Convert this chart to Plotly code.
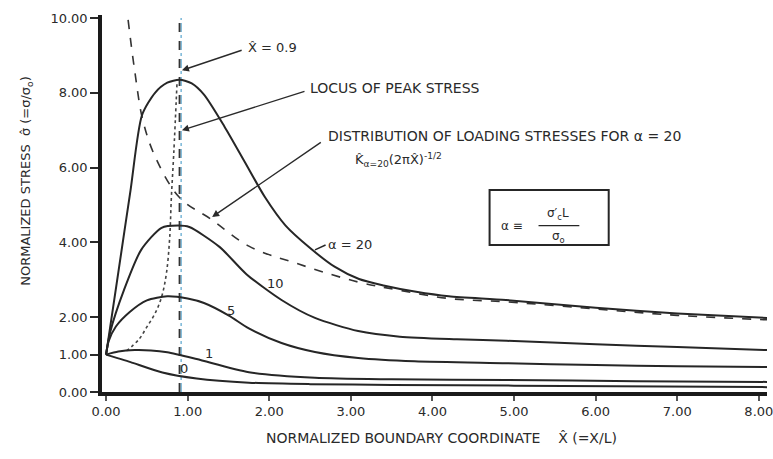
import plotly.graph_objects as go

# ---- data ----
x_ticks = [0, 1, 2, 3, 4, 5, 6, 7, 8]
x_tick_labels = ["0.00", "1.00", "2.00", "3.00", "4.00", "5.00", "6.00", "7.00", "8.00"]
y_ticks = [0, 1, 2, 4, 6, 8, 10]
y_tick_labels = ["0.00", "1.00", "2.00", "4.00", "6.00", "8.00", "10.00"]

alpha20_x = [0.0, 0.15, 0.3, 0.44, 0.6, 0.75, 0.9, 1.05, 1.2, 1.45, 1.7, 1.95, 2.2, 2.5, 2.8, 3.1, 3.4, 3.8, 4.2, 4.9, 6.0, 7.0, 8.1]
alpha20_y = [1.0, 3.2, 5.4, 7.4, 8.0, 8.27, 8.35, 8.25, 7.95, 7.1, 6.15, 5.2, 4.45, 3.85, 3.35, 3.02, 2.85, 2.68, 2.56, 2.46, 2.25, 2.1, 1.98]

alpha10_x = [0.0, 0.05, 0.22, 0.43, 0.68, 0.88, 1.02, 1.39, 1.72, 2.15, 2.56, 3.09, 3.6, 4.3, 4.91, 6.0, 7.0, 8.1]
alpha10_y = [1.0, 1.6, 2.73, 3.8, 4.39, 4.45, 4.41, 3.88, 3.15, 2.46, 1.98, 1.63, 1.48, 1.41, 1.37, 1.28, 1.2, 1.12]

alpha5_x = [0.0, 0.03, 0.12, 0.29, 0.5, 0.75, 1.0, 1.2, 1.5, 1.75, 2.15, 2.56, 3.09, 3.78, 4.91, 6.0, 7.0, 8.1]
alpha5_y = [1.0, 1.35, 1.75, 2.14, 2.45, 2.56, 2.5, 2.38, 2.05, 1.7, 1.31, 1.07, 0.91, 0.82, 0.77, 0.72, 0.69, 0.67]

alpha1_x = [0.0, 0.15, 0.35, 0.55, 0.75, 1.11, 1.75, 2.56, 3.5, 4.91, 6.5, 8.1]
alpha1_y = [1.0, 1.08, 1.12, 1.11, 1.06, 0.88, 0.53, 0.38, 0.34, 0.32, 0.29, 0.27]

alpha0_x = [0.0, 0.15, 0.3, 0.69, 1.11, 1.75, 2.5, 3.5, 5.0, 8.1]
alpha0_y = [1.0, 0.9, 0.8, 0.52, 0.36, 0.25, 0.21, 0.19, 0.17, 0.13]

loading_x = [0.27, 0.35, 0.45, 0.6, 0.9, 1.3, 1.75, 2.36, 3.09, 3.6, 4.2, 4.91, 6.16, 7.0, 8.1]
loading_y = [9.95, 8.6, 7.27, 6.3, 5.2, 4.6, 3.9, 3.42, 2.94, 2.72, 2.5, 2.41, 2.19, 2.05, 1.93]

locus_x = [0.25, 0.4, 0.5, 0.6, 0.68, 0.74, 0.78, 0.8, 0.83, 0.87]
locus_y = [1.1, 1.4, 1.74, 2.1, 2.54, 3.18, 4.14, 5.2, 6.4, 8.3]

peak_x_line = [0.9, 0.9]
peak_y_line = [0.0, 10.0]

INK = "#262626"
FONT = "DejaVu Sans"

fig = go.Figure()

# vertical line at X = 0.9 (light scan halo + dark dashes)
fig.add_trace(go.Scatter(x=[v + 0.02 for v in peak_x_line], y=peak_y_line, mode="lines",
                         line=dict(color="#78b6d8", width=1.5, dash="dashdot"), hoverinfo="skip"))
fig.add_trace(go.Scatter(x=peak_x_line, y=peak_y_line, mode="lines",
                         line=dict(color="#333333", width=1.8, dash="dash"), hoverinfo="skip"))

# locus of peak stress (dotted)
fig.add_trace(go.Scatter(x=locus_x, y=locus_y, mode="lines",
                         line=dict(color="#444444", width=1.6, dash="dot", shape="spline")))
# loading stress distribution (dashed)
fig.add_trace(go.Scatter(x=loading_x, y=loading_y, mode="lines",
                         line=dict(color="#333333", width=1.6, dash="dash", shape="spline")))

for xs, ys in [(alpha0_x, alpha0_y), (alpha1_x, alpha1_y), (alpha5_x, alpha5_y),
               (alpha10_x, alpha10_y), (alpha20_x, alpha20_y)]:
    fig.add_trace(go.Scatter(x=xs, y=ys, mode="lines",
                             line=dict(color=INK, width=2, shape="spline", smoothing=0.7)))

ann_font = dict(family=FONT, size=14, color="#2a2a2a")
mid_font = dict(family=FONT, size=13, color="#2a2a2a")
small_font = dict(family=FONT, size=12, color="#2a2a2a")
annotations = [
    # text labels
    dict(x=1.72, y=9.2, text="X̂ = 0.9", showarrow=False, xanchor="left", font=mid_font),
    dict(x=2.48, y=8.13, text="LOCUS OF PEAK STRESS", showarrow=False, xanchor="left", font=ann_font),
    dict(x=2.7, y=6.84, text="DISTRIBUTION OF LOADING STRESSES FOR α = 20", showarrow=False,
         xanchor="left", font=ann_font),
    dict(x=3.03, y=6.2, text="K̂<sub>α=20</sub>(2πX̂)<sup>-1/2</sup>", showarrow=False,
         xanchor="left", font=mid_font),
    dict(x=2.7, y=3.95, text="α = 20", showarrow=False, xanchor="left", font=mid_font),
    dict(x=2.08, y=2.91, text="10", showarrow=False, font=mid_font),
    dict(x=1.53, y=2.19, text="5", showarrow=False, font=mid_font),
    dict(x=1.26, y=1.02, text="1", showarrow=False, font=mid_font),
    dict(x=0.95, y=0.64, text="0", showarrow=False, font=mid_font),
    # box content
    dict(x=4.98, y=4.45, text="α ≡", showarrow=False, font=small_font),
    dict(x=5.54, y=4.76, text="σ′<sub>c</sub>L", showarrow=False, font=small_font),
    dict(x=5.54, y=4.15, text="σ<sub>o</sub>", showarrow=False, font=small_font),
    # arrows
    dict(x=0.93, y=8.6, ax=1.68, ay=9.15, axref="x", ayref="y", text="", showarrow=True,
         arrowhead=2, arrowsize=1, arrowwidth=1.4, arrowcolor="#2a2a2a"),
    dict(x=0.93, y=7.0, ax=2.45, ay=8.05, axref="x", ayref="y", text="", showarrow=True,
         arrowhead=2, arrowsize=1, arrowwidth=1.4, arrowcolor="#2a2a2a"),
    dict(x=1.3, y=4.68, ax=2.65, ay=6.7, axref="x", ayref="y", text="", showarrow=True,
         arrowhead=2, arrowsize=1, arrowwidth=1.4, arrowcolor="#2a2a2a"),
    # axis titles
    dict(xref="paper", yref="paper", x=-0.113, y=0.56, xanchor="center", yanchor="middle",
         text="NORMALIZED STRESS  σ̂ (=σ/σ<sub>o</sub>)", textangle=-90, showarrow=False,
         font=mid_font),
    dict(xref="paper", yref="paper", x=0.511, y=-0.122, xanchor="center", yanchor="middle",
         text="NORMALIZED BOUNDARY COORDINATE    X̂ (=X/L)", showarrow=False,
         font=ann_font),
]

shapes = [
    dict(type="line", x0=2.56, y0=3.8, x1=2.69, y1=3.93, line=dict(color=INK, width=1.4)),
    dict(type="rect", x0=4.7, x1=6.16, y0=3.93, y1=5.40, line=dict(color=INK, width=2)),
    dict(type="line", x0=5.3, x1=5.8, y0=4.45, y1=4.45, line=dict(color=INK, width=1.2)),
]

fig.update_layout(
    width=773, height=459,
    margin=dict(l=102, r=0, t=15, b=67),
    paper_bgcolor="white", plot_bgcolor="white",
    showlegend=False,
    annotations=annotations,
    shapes=shapes,
    font=dict(family=FONT, size=12, color="#2a2a2a"),
)
fig.update_xaxes(range=[-0.05, 8.1], tickvals=x_ticks, ticktext=x_tick_labels,
                 showgrid=False, zeroline=False, showline=True, linewidth=3.5, linecolor="#1a1a1a",
                 ticks="outside", ticklen=5, tickwidth=1.5, tickcolor="#555555",
                 ticklabeloverflow="allow",
                 tickfont=dict(family=FONT, size=13, color="#2a2a2a"))
fig.update_yaxes(range=[0, 10.08], tickvals=y_ticks, ticktext=y_tick_labels,
                 showgrid=False, zeroline=False, showline=True, linewidth=3.5, linecolor="#1a1a1a",
                 ticks="outside", ticklen=8, tickwidth=2, tickcolor="#2a2a2a",
                 tickfont=dict(family=FONT, size=13, color="#2a2a2a"))

fig.write_html("out.html", config={"displayModeBar": False},
               post_script="document.body.style.margin='0';")
